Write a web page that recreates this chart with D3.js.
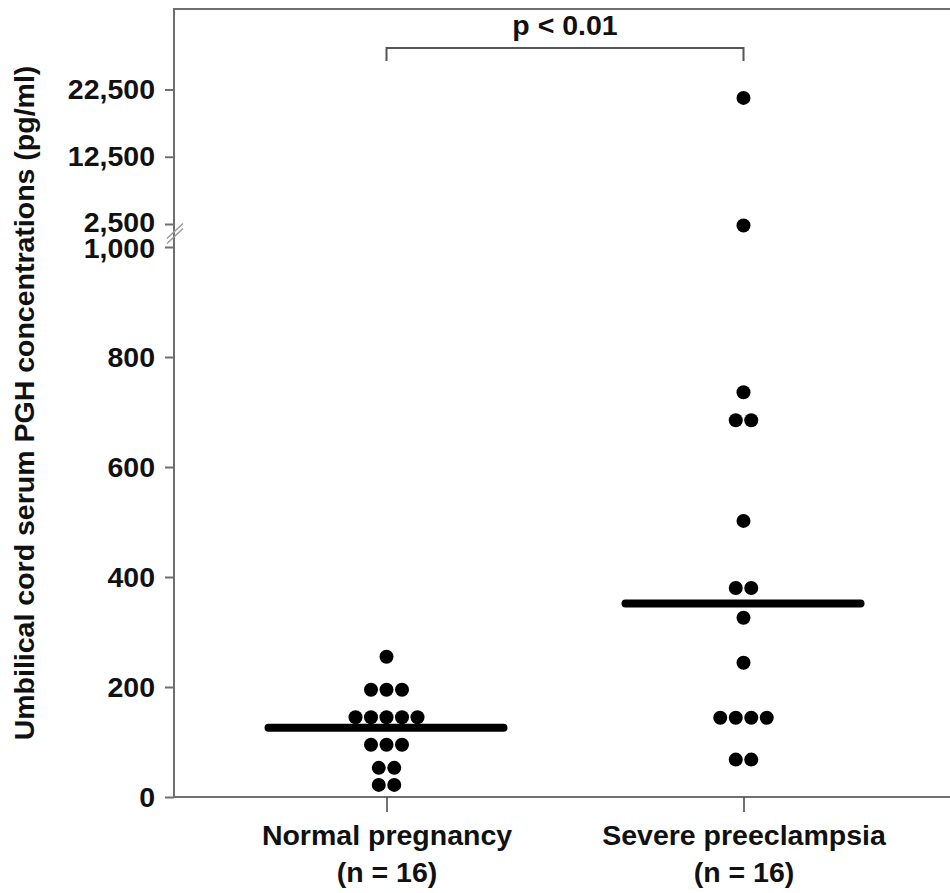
<!DOCTYPE html>
<html>
<head>
<meta charset="utf-8">
<script src="https://cdn.jsdelivr.net/npm/d3@7"></script>
<style>
  body { margin: 0; background: #fff; }
  svg text { font-family: "Liberation Sans", Arial, sans-serif; font-weight: bold; fill: #111; }
</style>
</head>
<body>
<svg id="chart" width="950" height="893"></svg>
<script>
const width = 950;
const height = 893;

// data
const groups = ["Normal pregnancy", "Severe preeclampsia"];
const groupN = ["(n = 16)", "(n = 16)"];
const normalValues = [255, 195, 195, 195, 145, 145, 145, 145, 145, 95, 95, 95, 53, 53, 22, 22];
const severeValues = [21250, 2400, 736, 685, 685, 502, 380, 380, 326, 244, 144, 144, 144, 144, 68, 68];
const medians = [126, 352];
const yTicks = [0, 200, 400, 600, 800, 1000, 2500, 12500, 22500];
const pLabel = "p < 0.01";
const yLabel = "Umbilical cord serum PGH concentrations (pg/ml)";

const margin = {top: 9, right: 0, bottom: 96, left: 174};
const axisColor = "#6f6f6f";
const fontSize = 28.5;
const dotR = 7;
const dotStep = 15.5;

const svg = d3.select("#chart");

// broken axis: lower part 0-1000, upper part 2500-22500
const y = d3.scaleLinear()
    .domain([0, 1000, 2500, 22500])
    .range([height - margin.bottom, 247, 224, 89.5]);

const x = d3.scalePoint()
    .domain(groups)
    .range([386.5, 743.5]);

// frame: left axis, top line, bottom line
svg.append("path").attr("id", "frame")
    .attr("d", `M${width},${margin.top}H${margin.left}V${height - margin.bottom}H${width}`)
    .attr("stroke", axisColor)
    .attr("stroke-width", 2)
    .attr("fill", "none");

// y axis ticks
svg.append("g").attr("id", "yAxis")
    .attr("transform", `translate(${margin.left},0)`)
    .call(d3.axisLeft(y).tickValues(yTicks).tickFormat(d3.format(",")).tickSize(9).tickPadding(10))
    .call(g => g.select(".domain").remove())
    .call(g => g.selectAll(".tick line").attr("stroke", axisColor).attr("stroke-width", 2))
    .call(g => g.selectAll(".tick text")
        .attr("font-family", "Liberation Sans, Arial, sans-serif")
        .attr("font-weight", "bold")
        .attr("font-size", fontSize)
        .attr("fill", "#111")
        // pull the two labels at the break a little apart
        .attr("dy", d => d === 2500 ? "0.26em" : d === 1000 ? "0.38em" : "0.32em"));

// axis break marks
const brk = svg.append("g").attr("id", "break")
    .attr("stroke", "#999")
    .attr("stroke-width", 1.5);
[0, 5].forEach(o => {
  brk.append("line")
      .attr("x1", margin.left - 7).attr("y1", (y(1000) + y(2500)) / 2 + 8 - o)
      .attr("x2", margin.left + 9).attr("y2", (y(1000) + y(2500)) / 2 - 7 - o);
});

// x axis
const xAxis = svg.append("g").attr("id", "xAxis")
    .attr("transform", `translate(0,${height - margin.bottom})`)
    .call(d3.axisBottom(x).tickSize(15).tickFormat(""))
    .call(g => g.select(".domain").remove())
    .call(g => g.selectAll(".tick line").attr("stroke", "#444").attr("stroke-width", 1.5));

xAxis.selectAll(".tick").append("text")
    .attr("text-anchor", "middle")
    .attr("font-size", fontSize)
    .attr("fill", "#111")
    .selectAll("tspan")
    .data((d, i) => [d, groupN[i]])
    .join("tspan")
      .attr("x", 0)
      .attr("y", (d, i) => 48 + i * 37)
      .text(d => d);

// dots, stacked side by side when values repeat
function swarm(values, group) {
  const counts = d3.rollup(values, v => v.length, d => d);
  const seen = new Map();
  return values.map(v => {
    const k = seen.get(v) || 0;
    seen.set(v, k + 1);
    const n = counts.get(v);
    return {value: v, cx: x(group) + (k - (n - 1) / 2) * dotStep};
  });
}

const dots = swarm(normalValues, groups[0]).concat(swarm(severeValues, groups[1]));

svg.append("g").attr("id", "dots")
  .selectAll("circle")
  .data(dots)
  .join("circle")
    .attr("cx", d => d.cx)
    .attr("cy", d => y(d.value))
    .attr("r", dotR)
    .attr("fill", "#000");

// median lines
svg.append("g").attr("id", "medians")
  .selectAll("line")
  .data(medians)
  .join("line")
    .attr("x1", (d, i) => x(groups[i]) - 118)
    .attr("x2", (d, i) => x(groups[i]) + 117)
    .attr("y1", d => y(d))
    .attr("y2", d => y(d))
    .attr("stroke", "#000")
    .attr("stroke-width", 8)
    .attr("stroke-linecap", "round");

// significance bracket
const brY = 48;
svg.append("path").attr("id", "bracket")
    .attr("d", `M${x(groups[0])},${brY + 13}V${brY}H${x(groups[1])}V${brY + 13}`)
    .attr("fill", "none")
    .attr("stroke", "#555")
    .attr("stroke-width", 2);

svg.append("text")
    .attr("x", (x(groups[0]) + x(groups[1])) / 2)
    .attr("y", 35)
    .attr("text-anchor", "middle")
    .attr("font-size", fontSize)
    .text(pLabel);

// y axis title
svg.append("text")
    .attr("transform", `translate(34,${403}) rotate(-90)`)
    .attr("text-anchor", "middle")
    .attr("font-size", fontSize)
    .text(yLabel);
</script>
</body>
</html>
